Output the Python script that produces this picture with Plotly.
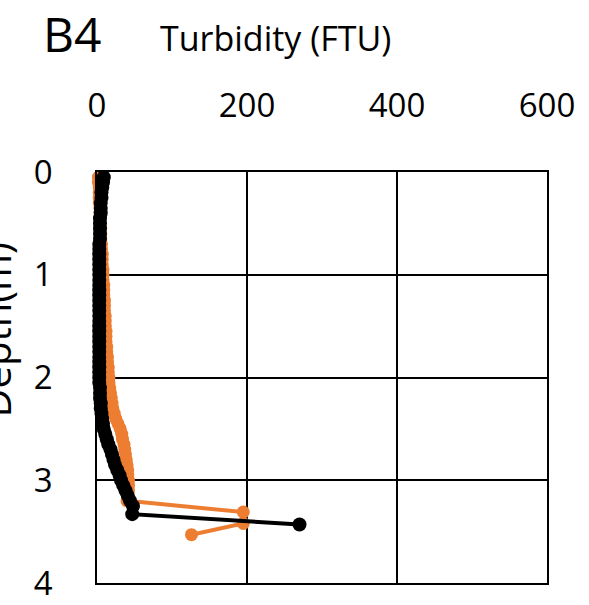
import plotly.graph_objects as go

# Depth (m) for the dense profile section
depth_profile = [0.05, 0.10, 0.15, 0.20, 0.25, 0.30, 0.35, 0.40, 0.45, 0.50,
                 0.55, 0.60, 0.65, 0.70, 0.75, 0.80, 0.85, 0.90, 0.95, 1.00,
                 1.05, 1.10, 1.15, 1.20, 1.25, 1.30, 1.35, 1.40, 1.45, 1.50,
                 1.55, 1.60, 1.65, 1.70, 1.75, 1.80, 1.85, 1.90, 1.95, 2.00,
                 2.05, 2.10, 2.15, 2.20, 2.25, 2.30, 2.35, 2.40, 2.45, 2.50,
                 2.55, 2.60, 2.65, 2.70, 2.75, 2.80, 2.85, 2.90, 2.95, 3.00,
                 3.05, 3.10, 3.15, 3.20, 3.25]

black_depth = depth_profile + [3.33, 3.43]
black_turb = [9, 8, 7, 6, 6, 5, 5, 5, 4, 4,
              4, 4, 4, 3, 3, 3, 3, 3, 3, 3,
              3, 3, 3, 3, 3, 3, 3, 3, 3, 3,
              3, 3, 3, 3, 3, 3, 3, 3, 3, 3,
              3, 4, 4, 4, 5, 5, 6, 7, 8, 9,
              11, 13, 15, 18, 20, 22, 24, 27, 30, 32,
              35, 38, 41, 44, 48,
              47, 270]

orange_depth = depth_profile[:64] + [3.31, 3.42, 3.53]
orange_turb = [2, 2, 3, 3, 3, 3, 4, 4, 4, 4,
               5, 5, 5, 6, 6, 7, 7, 7, 8, 8,
               8, 9, 9, 9, 10, 10, 10, 11, 11, 11,
               12, 12, 12, 13, 13, 14, 14, 15, 15, 16,
               16, 17, 18, 19, 20, 21, 23, 25, 28, 31,
               33, 34, 36, 37, 38, 39, 40, 41, 41, 42,
               42, 42, 41, 40,
               195, 195, 126]

x_ticks = [0, 200, 400, 600]
y_ticks = [0, 1, 2, 3, 4]

FONT = "Open Sans"

fig = go.Figure()
fig.add_trace(go.Scatter(
    x=orange_turb, y=orange_depth, mode="lines+markers",
    line=dict(color="#ED7D31", width=4),
    marker=dict(color="#ED7D31", size=13),
    cliponaxis=False, showlegend=False))
fig.add_trace(go.Scatter(
    x=black_turb, y=black_depth, mode="lines+markers",
    line=dict(color="#000000", width=4),
    marker=dict(color="#000000", size=14),
    cliponaxis=False, showlegend=False))

fig.update_layout(
    width=589, height=605,
    margin=dict(l=97, r=42, t=172, b=22),
    paper_bgcolor="white", plot_bgcolor="white",
    font=dict(family=FONT, color="#000000"),
    xaxis=dict(side="top", range=[0, 600], tickvals=x_ticks,
               ticktext=[str(v) for v in x_ticks],
               showgrid=True, gridcolor="#000000", gridwidth=1.5,
               showline=True, linecolor="#000000", linewidth=1.5, mirror=True,
               zeroline=False, ticks="", tickfont=dict(size=33, family=FONT),
               ticklabelstandoff=40, automargin=False),
    yaxis=dict(range=[4, 0], tickvals=y_ticks,
               ticktext=[str(v) for v in y_ticks],
               showgrid=True, gridcolor="#000000", gridwidth=1.5,
               showline=True, linecolor="#000000", linewidth=1.5, mirror=True,
               zeroline=False, ticks="", tickfont=dict(size=33, family=FONT),
               ticklabelstandoff=36, automargin=False),
    annotations=[
        dict(text="B4", xref="paper", yref="paper", x=-0.056, y=1.338,
             xanchor="center", yanchor="middle", showarrow=False,
             font=dict(size=48, family=FONT)),
        dict(text="Turbidity (FTU)", xref="paper", yref="paper", x=0.396, y=1.326,
             xanchor="center", yanchor="middle", showarrow=False,
             font=dict(size=34, family=FONT)),
        dict(text="Depth(m)", xref="paper", yref="paper", x=-0.225, y=0.616,
             xanchor="center", yanchor="middle", showarrow=False, textangle=-90,
             font=dict(size=40, family=FONT)),
    ],
)

fig.write_html("out.html", config={"displayModeBar": False},
               post_script="document.body.style.margin='0';")
